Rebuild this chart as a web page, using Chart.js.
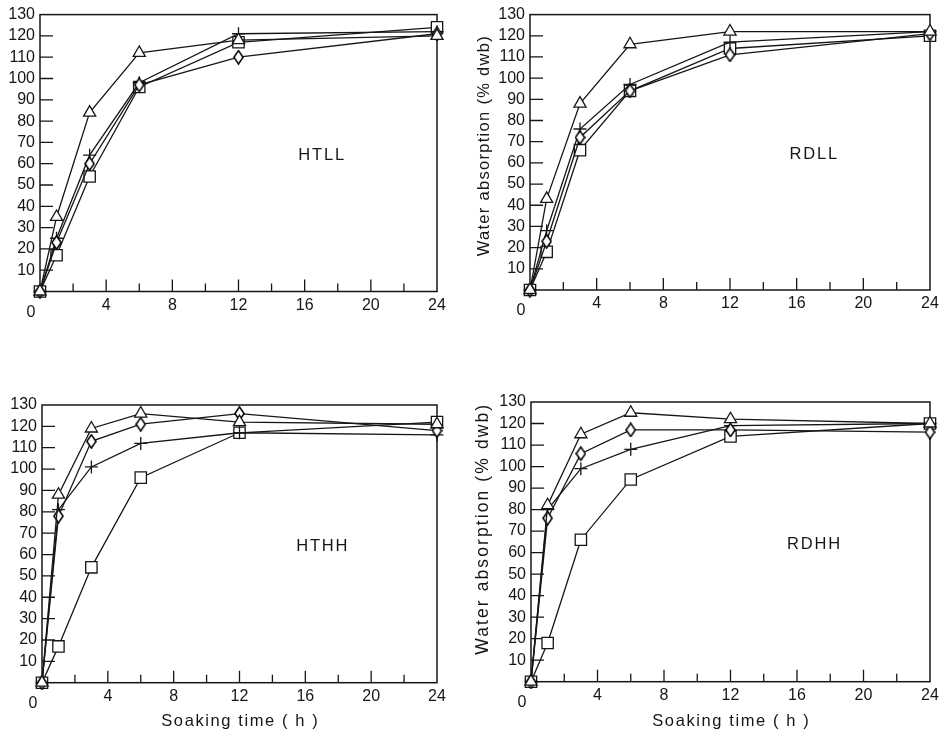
<!DOCTYPE html>
<html lang="en">
<head>
<meta charset="utf-8">
<title>Water absorption</title>
<script src="https://cdn.jsdelivr.net/npm/chart.js@4/dist/chart.umd.min.js"></script>
<style>
  html, body { margin: 0; padding: 0; background: #fff; }
  #planche { position: relative; width: 946px; height: 734px; }
  #planche canvas { position: absolute; }
</style>
</head>
<body>
<div id="planche">
  <canvas id="htll" width="470" height="340" style="left:0;top:0"></canvas>
  <canvas id="rdll" width="476" height="340" style="left:470px;top:0"></canvas>
  <canvas id="hthh" width="470" height="354" style="left:0;top:380px"></canvas>
  <canvas id="rdhh" width="476" height="354" style="left:470px;top:380px"></canvas>
</div>
<script>
// temps de trempage (h) et graduations
const HEURES = [0, 1, 3, 6, 12, 24];
const GRADUATIONS_X = [0, 4, 8, 12, 16, 20, 24];
const GRADUATIONS_X_MINEURES = [2, 6, 10, 14, 18, 22];
const GRADUATIONS_Y = [0, 10, 20, 30, 40, 50, 60, 70, 80, 90, 100, 110, 120, 130];

// absorption d'eau (% dwb) par lot : triangles, losanges, croix, carrés
const HTLL_TRIANGLES = [0, 35, 84, 112, 118, 120];
const HTLL_LOSANGES = [0, 23, 60, 97, 110, 121];
const HTLL_CROIX = [0, 25, 64, 98, 121, 122];
const HTLL_CARRES = [0, 17, 54, 96, 117, 124];

const RDLL_TRIANGLES = [0, 43, 88, 116, 122, 122];
const RDLL_LOSANGES = [0, 23, 72, 94, 111, 121];
const RDLL_CROIX = [0, 28, 76, 97, 117, 122];
const RDLL_CARRES = [0, 18, 66, 94, 114, 120];

const HTHH_TRIANGLES = [0, 88, 119, 126, 122, 121];
const HTHH_LOSANGES = [0, 78, 113, 121, 126, 118];
const HTHH_CROIX = [0, 81, 101, 112, 117, 116];
const HTHH_CARRES = [0, 17, 54, 96, 117, 122];

const RDHH_TRIANGLES = [0, 82, 115, 125, 122, 120];
const RDHH_LOSANGES = [0, 76, 106, 117, 117, 116];
const RDHH_CROIX = [0, 80, 99, 108, 119, 120];
const RDHH_CARRES = [0, 18, 66, 94, 114, 120];

const ENCRE = '#161616';
const POLICE = '"Liberation Sans", Arial, sans-serif';

// losange plus haut que large, dessiné une fois puis réutilisé comme pointStyle
const losange = document.createElement('canvas');
losange.width = 11;
losange.height = 15;
(() => {
  const c = losange.getContext('2d');
  c.beginPath();
  c.moveTo(5.5, 0.9);
  c.lineTo(10.1, 7.5);
  c.lineTo(5.5, 14.1);
  c.lineTo(0.9, 7.5);
  c.closePath();
  c.fillStyle = '#fff';
  c.fill();
  c.lineWidth = 1.6;
  c.strokeStyle = '#000';
  c.stroke();
})();

const texteEspace = (ctx, texte, x, y, espacement) => {
  ctx.letterSpacing = `${espacement}px`;
  // letterSpacing ajoute aussi un espace après le dernier caractère
  ctx.fillText(texte, x + espacement / 2, y);
  ctx.letterSpacing = '0px';
};

// cadre, graduations intérieures, nom du lot, titres d'axes
const decor = {
  id: 'decor',
  beforeDatasetsDraw(chart, args, opts) {
    const { ctx, chartArea: zone, scales: { x, y } } = chart;
    ctx.save();
    ctx.strokeStyle = ENCRE;
    ctx.lineWidth = 1.5;
    ctx.strokeRect(zone.left, zone.top, zone.right - zone.left, zone.bottom - zone.top);

    ctx.lineWidth = 1.3;
    ctx.beginPath();
    GRADUATIONS_X.concat(GRADUATIONS_X_MINEURES).forEach((v) => {
      if (v === 0 || v === 24) return;
      const px = x.getPixelForValue(v);
      const longueur = v % 4 === 0 ? 12 : 8;
      ctx.moveTo(px, zone.bottom);
      ctx.lineTo(px, zone.bottom - longueur);
    });
    GRADUATIONS_Y.forEach((v) => {
      if (v === 0 || v === 130) return;
      const py = y.getPixelForValue(v);
      ctx.moveTo(zone.left, py);
      ctx.lineTo(zone.left + 13, py);
    });
    ctx.stroke();

    ctx.fillStyle = ENCRE;
    ctx.textAlign = 'center';
    ctx.textBaseline = 'middle';
    ctx.font = `16px ${POLICE}`;
    ctx.fillText('0', x.getPixelForValue(0) - 9, y.getPixelForValue(0) + 21);

    ctx.font = `16.5px ${POLICE}`;
    texteEspace(ctx, opts.nom, x.getPixelForValue(17), y.getPixelForValue(64), 1.8);

    if (opts.titreY) {
      ctx.save();
      ctx.font = `${opts.titreY.taille}px ${POLICE}`;
      ctx.translate(opts.titreY.x, (zone.top + zone.bottom) / 2 + opts.titreY.decalage);
      ctx.rotate(-Math.PI / 2);
      texteEspace(ctx, opts.titreY.texte, 0, 0, opts.titreY.espacement);
      ctx.restore();
    }
    if (opts.titreX) {
      ctx.font = `16.5px ${POLICE}`;
      texteEspace(ctx, opts.titreX.texte, (zone.left + zone.right) / 2, opts.titreX.y, 1.6);
    }
    ctx.restore();
  },
};

const serie = (valeurs, style, rayon) => ({
  data: HEURES.map((h, i) => ({ x: h, y: valeurs[i] })),
  borderColor: ENCRE,
  borderWidth: 1.3,
  pointStyle: style,
  pointRadius: rayon,
  pointBorderWidth: 1.3,
  pointBorderColor: ENCRE,
  pointBackgroundColor: '#fff',
  tension: 0,
  clip: false,
});

const dessinePanneau = (idCanevas, { nom, triangles, losanges, croix, carres, marges, titreY, titreX }) => {
  /* eslint-disable no-new */
  new Chart(document.getElementById(idCanevas), {
    type: 'line',
    plugins: [decor],
    data: {
      datasets: [
        serie(triangles, 'triangle', 7),
        serie(losanges, losange, 6),
        serie(croix, 'cross', 6.5),
        serie(carres, 'rect', 8),
      ],
    },
    options: {
      animation: false,
      responsive: false,
      devicePixelRatio: 1,
      events: [],
      layout: { padding: { top: marges.haut, right: marges.droite, left: 0, bottom: 0 } },
      plugins: {
        legend: { display: false },
        tooltip: { enabled: false },
        decor: { nom, titreY, titreX },
      },
      scales: {
        x: {
          type: 'linear',
          min: 0,
          max: 24,
          afterBuildTicks: (axe) => { axe.ticks = GRADUATIONS_X.map((value) => ({ value })); },
          afterFit: (axe) => { axe.height = marges.axeX; },
          grid: { display: false, drawTicks: false },
          border: { display: false },
          ticks: {
            padding: 4,
            color: ENCRE,
            font: { family: POLICE, size: 16 },
            maxRotation: 0,
            autoSkip: false,
            callback: (v) => (v === 0 ? '' : v),
          },
        },
        y: {
          min: 0,
          max: 130,
          afterBuildTicks: (axe) => { axe.ticks = GRADUATIONS_Y.map((value) => ({ value })); },
          afterFit: (axe) => { axe.width = marges.gauche; },
          grid: { display: false, drawTicks: false },
          border: { display: false },
          ticks: {
            padding: 5,
            color: ENCRE,
            font: { family: POLICE, size: 16 },
            autoSkip: false,
            callback: (v) => (v === 0 ? '' : v),
          },
        },
      },
    },
  });
  /* eslint-enable no-new */
};

const TITRE_Y = 'Water absorption (% dwb)';
const TITRE_X = 'Soaking time ( h )';

dessinePanneau('htll', {
  nom: 'HTLL',
  triangles: HTLL_TRIANGLES,
  losanges: HTLL_LOSANGES,
  croix: HTLL_CROIX,
  carres: HTLL_CARRES,
  marges: { gauche: 40, haut: 13, droite: 33, axeX: 48.5 },
});

dessinePanneau('rdll', {
  nom: 'RDLL',
  triangles: RDLL_TRIANGLES,
  losanges: RDLL_LOSANGES,
  croix: RDLL_CROIX,
  carres: RDLL_CARRES,
  marges: { gauche: 60, haut: 12, droite: 16, axeX: 50 },
  titreY: { texte: TITRE_Y, x: 14, taille: 16.5, espacement: 1.3, decalage: -6 },
});

dessinePanneau('hthh', {
  nom: 'HTHH',
  triangles: HTHH_TRIANGLES,
  losanges: HTHH_LOSANGES,
  croix: HTHH_CROIX,
  carres: HTHH_CARRES,
  marges: { gauche: 42, haut: 25, droite: 33, axeX: 51.3 },
  titreX: { texte: TITRE_X, y: 341 },
});

dessinePanneau('rdhh', {
  nom: 'RDHH',
  triangles: RDHH_TRIANGLES,
  losanges: RDHH_LOSANGES,
  croix: RDHH_CROIX,
  carres: RDHH_CARRES,
  marges: { gauche: 61, haut: 22, droite: 16, axeX: 52.3 },
  titreY: { texte: TITRE_Y, x: 13, taille: 17.5, espacement: 2.1, decalage: -12 },
  titreX: { texte: TITRE_X, y: 341 },
});
</script>
</body>
</html>
